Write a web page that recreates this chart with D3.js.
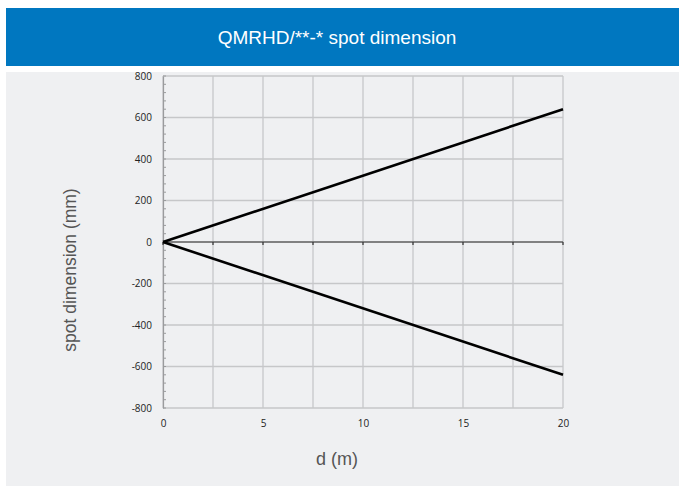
<!DOCTYPE html>
<html><head><meta charset="utf-8">
<script src="https://cdn.jsdelivr.net/npm/d3@7"></script>
<style>body{margin:0;background:#fff;} svg{display:block;}</style>
</head><body>
<script>
const title = "QMRHD/**-* spot dimension";
const xLabel = "d (m)";
const yLabel = "spot dimension (mm)";
const distances = [0, 20];
const upperEdge = [0, 640];
const lowerEdge = [0, -640];
const xTicks = [0, 5, 10, 15, 20];
const xGrid = [0, 2.5, 5, 7.5, 10, 12.5, 15, 17.5, 20];
const yTicks = [-800, -600, -400, -200, 0, 200, 400, 600, 800];

const W = 679, H = 486;
const svg = d3.select("body").append("svg").attr("width", W).attr("height", H);

svg.append("rect").attr("x", 6).attr("y", 8).attr("width", W - 6).attr("height", 58).attr("fill", "#0077c0");
svg.append("text").attr("x", 337).attr("y", 44).attr("text-anchor", "middle")
  .attr("fill", "#fff").attr("font-family", "Liberation Sans, Arial, sans-serif").attr("font-size", 19)
  .text(title);
svg.append("rect").attr("x", 6).attr("y", 72).attr("width", W - 6).attr("height", H - 72).attr("fill", "#eff0f2");

const x = d3.scaleLinear().domain([0, 20]).range([163, 563]);
const y = d3.scaleLinear().domain([-800, 800]).range([408, 76]);

const g = svg.append("g");
g.selectAll(".vg").data(xGrid).join("line")
  .attr("x1", d => x(d)).attr("x2", d => x(d)).attr("y1", y(800)).attr("y2", y(-800))
  .attr("stroke", "#c6c7c9").attr("stroke-width", 1.3);
g.selectAll(".hg").data(yTicks).join("line")
  .attr("x1", x(0)).attr("x2", x(20)).attr("y1", d => y(d)).attr("y2", d => y(d))
  .attr("stroke", "#c6c7c9").attr("stroke-width", 1.3);

const fmt = d => String(d);
const yAxis = d3.axisLeft(y).tickValues(yTicks).tickSize(0).tickPadding(11).tickFormat(fmt);
const ya = g.append("g").attr("transform", `translate(${x(0)},0)`).call(yAxis);
ya.select(".domain").attr("stroke", "#9a9b9d").attr("stroke-width", 1.2);
ya.selectAll("text").attr("font-family", "Open Sans, sans-serif").attr("font-size", 10).attr("fill", "#222");
const minor = d3.range(-800, 801, 40);
g.selectAll(".mt").data(minor).join("line")
  .attr("x1", x(0)).attr("x2", x(0) + 3).attr("y1", d => y(d)).attr("y2", d => y(d))
  .attr("stroke", "#9a9b9d").attr("stroke-width", 1);

const xAxis = d3.axisBottom(x).tickValues(xTicks).tickSize(0).tickPadding(12).tickFormat(fmt);
const xa = g.append("g").attr("transform", `translate(0,${y(-800)})`).call(xAxis);
xa.select(".domain").remove();
xa.selectAll("text").attr("font-family", "Open Sans, sans-serif").attr("font-size", 10).attr("fill", "#222");

g.append("line").attr("x1", x(0)).attr("x2", x(20)).attr("y1", y(0)).attr("y2", y(0))
  .attr("stroke", "#333").attr("stroke-width", 1.2);
g.selectAll(".zt").data(xGrid).join("line")
  .attr("x1", d => x(d)).attr("x2", d => x(d)).attr("y1", y(0)).attr("y2", y(0) + 3)
  .attr("stroke", "#333").attr("stroke-width", 1.2);

const line = d3.line().x((d, i) => x(distances[i])).y(d => y(d));
[upperEdge, lowerEdge].forEach(s => {
  g.append("path").datum(s).attr("d", line).attr("fill", "none")
    .attr("stroke", "#000").attr("stroke-width", 2.6);
});

svg.append("text").attr("x", 337).attr("y", 465).attr("text-anchor", "middle")
  .attr("font-family", "Liberation Sans, Arial, sans-serif").attr("font-size", 18).attr("fill", "#555")
  .text(xLabel);
svg.append("text").attr("transform", "translate(76,270) rotate(-90)").attr("text-anchor", "middle")
  .attr("font-family", "Liberation Sans, Arial, sans-serif").attr("font-size", 17.5).attr("fill", "#555")
  .text(yLabel);
</script>
</body></html>
